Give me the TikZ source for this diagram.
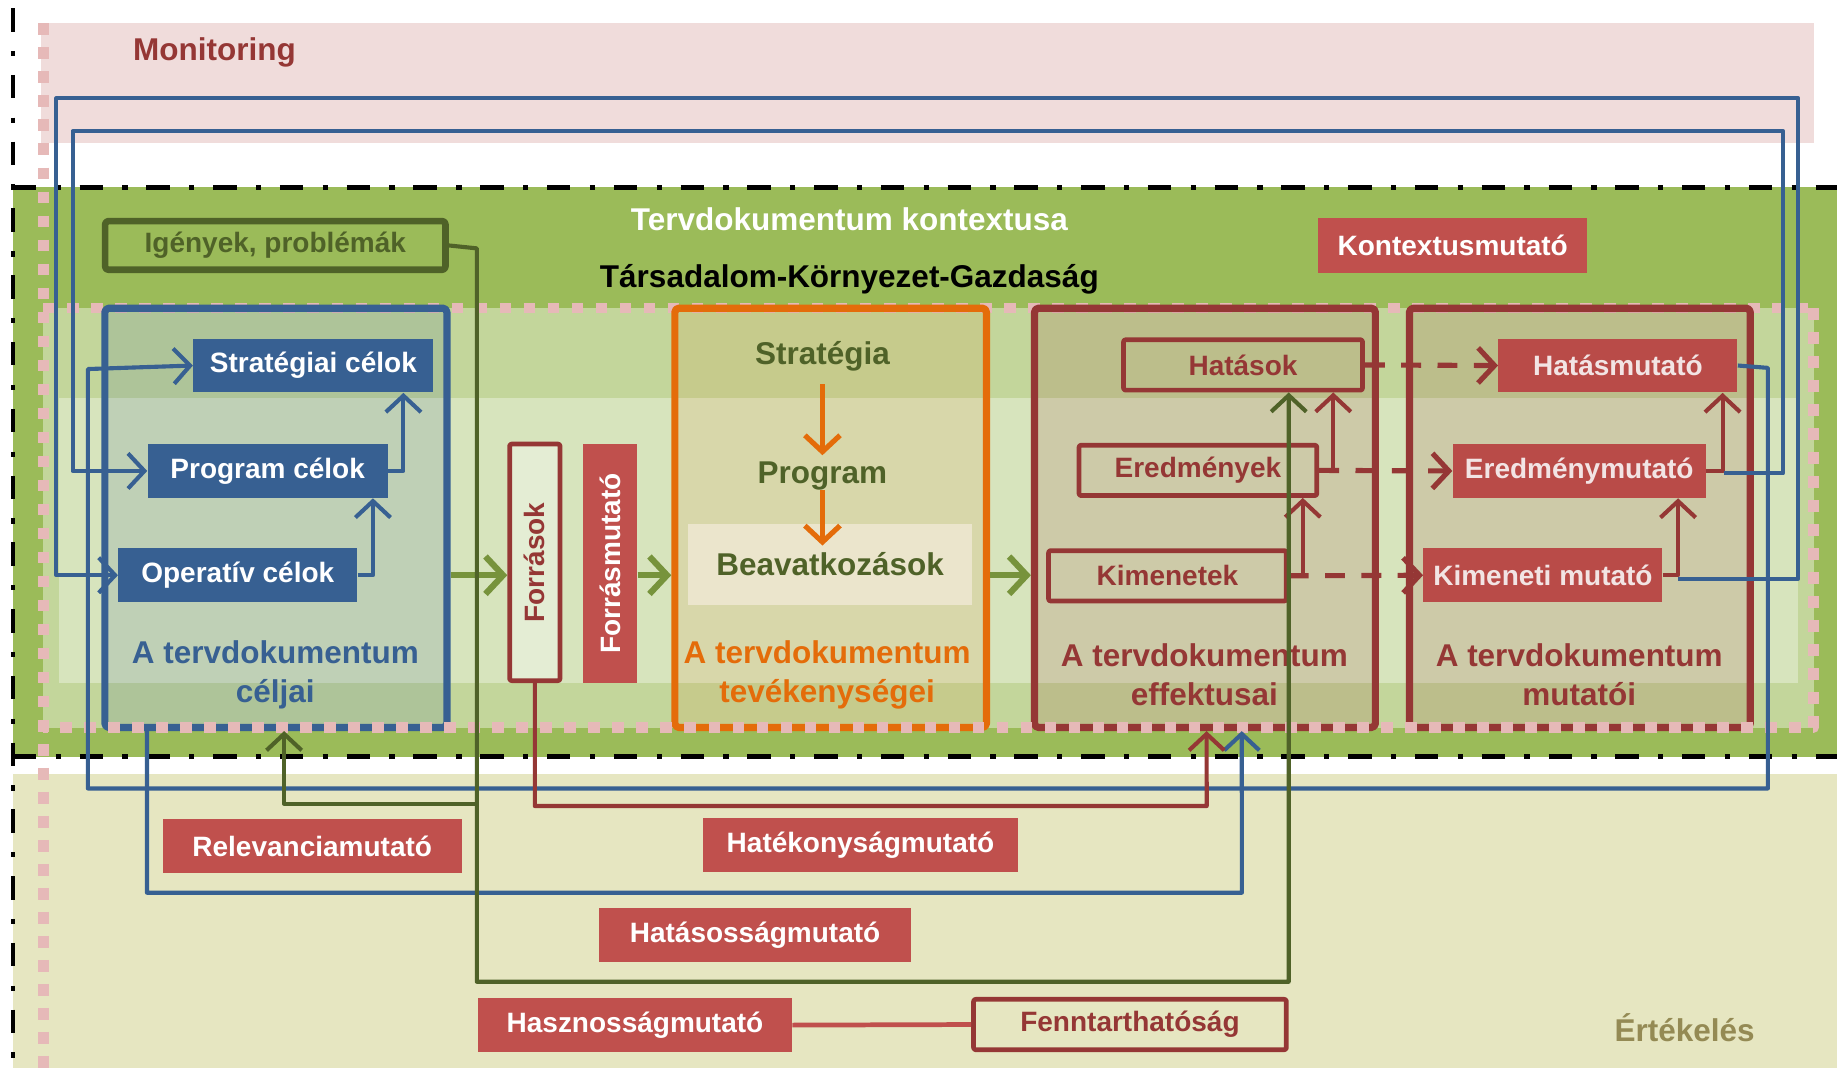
\documentclass[tikz,border=0pt]{standalone}
\usepackage{fontspec}
\setmainfont{Liberation Sans}
\usepackage{tikz}
\usetikzlibrary{arrows.meta,calc}
\usepackage{xcolor}

\definecolor{goalblue}{RGB}{55,96,146}
\definecolor{effred}{RGB}{149,55,53}
\definecolor{indred}{RGB}{192,80,77}
\definecolor{indmix}{RGB}{185,75,72}
\definecolor{textmix}{RGB}{242,228,228}
\definecolor{actorange}{RGB}{228,108,10}
\definecolor{olivedark}{RGB}{79,98,40}
\definecolor{olivearrow}{RGB}{119,147,60}
\definecolor{ctxgreen}{RGB}{155,187,89}
\definecolor{ctxlight}{RGB}{195,214,155}
\definecolor{ctxlighter}{RGB}{215,228,189}
\definecolor{evalbg}{RGB}{230,230,193}
\definecolor{monbg}{RGB}{240,220,219}
\definecolor{pinkdot}{RGB}{230,185,184}
\definecolor{evaltext}{RGB}{148,138,84}
\definecolor{cream}{RGB}{235,229,204}

\begin{document}
\begin{tikzpicture}[x=0.02cm,y=-0.02cm,line join=round,
  >={Straight Barb[length=2.8mm,width=6mm]},
  font=\bfseries\fontsize{13.6}{16}\selectfont,
  titlefont/.style={font=\bfseries\fontsize{15.3}{18.7}\selectfont},
  goal/.style={fill=goalblue,text=white,minimum width=4.1cm,minimum height=0.92cm,inner sep=0pt},
  ind/.style={fill=indred,text=white,minimum height=0.92cm,inner sep=0pt},
  eff/.style={draw=effred,line width=2.3pt,text=effred,minimum height=0.86cm,inner sep=0pt,rounded corners=1pt},
  bigbox/.style={line width=3.5pt,minimum height=7.16cm,minimum width=5.82cm,rounded corners=2pt},
  bluearr/.style={goalblue,line width=2pt,->},
  redarr/.style={effred,line width=2pt,->},
  greenarr/.style={olivedark,line width=2pt,->},
  oarr/.style={olivearrow,line width=3pt,-{Straight Barb[length=3mm,width=6.4mm]}},
  orarr/.style={actorange,line width=2.5pt,->},
  dasharr/.style={effred,line width=2.5pt,dash pattern=on 0.34cm off 0.28cm,->},
  dashdot/.style={line width=2.3pt,dash pattern=on 0.4cm off 0.33cm on 0.09cm off 0.32cm},
  pinkline/.style={pinkdot,line width=0.18cm,dash pattern=on 0.2cm off 0.21cm}]
\useasboundingbox[fill=white] (0,0) rectangle (1568,912);
\fill[monbg] (35,20) rectangle (1548,122);
\fill[ctxgreen] (11,160) rectangle (1568,646);
\fill[evalbg] (11,661) rectangle (1568,912);
\fill[ctxlight] (37,263) rectangle (1548,621);
\fill[ctxlighter] (50,340) rectangle (1535,583);
\draw[pinkline] (37,263) -- (1548,263);

\node[bigbox,draw=goalblue,fill=goalblue,fill opacity=0.15,minimum width=5.84cm] (celjai) at (235.5,442) {};
\node[bigbox,draw=actorange,fill=actorange,fill opacity=0.1,minimum width=5.32cm] (tevek) at (709,442) {};
\node[bigbox,draw=effred,fill=effred,fill opacity=0.15] (effekt) at (1028.5,442) {};
\node[bigbox,draw=effred,fill=effred,fill opacity=0.15] (mutat) at (1348.5,442) {};

\draw[pinkline] (37,20) -- (37,912);
\draw[pinkline] (1548,263) -- (1548,621) -- (37,621);
\draw[dashdot] (11,7) -- (11,912);
\draw[dashdot] (11,160) -- (1568,160);
\draw[dashdot] (11,646) -- (1568,646);

\node[titlefont,effred] (mon) at (183,45) {Monitoring};
\node[titlefont,white] (ctx) at (725,187) {Tervdokumentum kontextusa};
\node[titlefont] (tkg) at (725,238) {Társadalom-Környezet-Gazdaság};
\node[ind,minimum width=4.6cm,minimum height=0.94cm] (kontm) at (1240,209.5) {Kontextusmutató};
\node[draw=olivedark,line width=3.2pt,text=olivedark,minimum width=5.81cm,minimum height=0.83cm,inner sep=0pt,rounded corners=1.5pt] (igeny) at (235,209.5) {Igények, problémák};

\node[goal] (strat) at (267.5,312) {Stratégiai célok};
\node[goal] (prog) at (228.5,402) {Program célok};
\node[goal,minimum width=4.08cm] (oper) at (203,491) {Operatív célok};
\node[titlefont,goalblue,align=center] (celjaiL) at (235,576) {A tervdokumentum\\céljai};

\node[eff,rotate=90,fill=white,fill opacity=0.35,text opacity=1,minimum width=4.04cm] (forr) at (456.5,480) {Források};
\node[ind,rotate=90,minimum width=4.08cm] (fmut) at (521,481) {Forrásmutató};

\node[titlefont,olivedark,inner sep=0pt] (strategia) at (702,304) {Stratégia};
\node[titlefont,olivedark,inner sep=0pt] (program) at (702,406) {Program};
\node[titlefont,fill=cream,text=olivedark,minimum width=4.86cm,minimum height=1.38cm,inner sep=0pt] (beav) at (708.5,481.5) {Beavatkozások};
\node[titlefont,actorange,align=center] (tevekL) at (706,576) {A tervdokumentum\\tevékenységei};

\node[eff,minimum width=4.08cm] (hatasok) at (1061,311.5) {Hatások};
\node[eff,minimum width=4.06cm] (eredm) at (1022.5,401.5) {Eredmények};
\node[eff,minimum width=4.06cm] (kimen) at (996.5,491.5) {Kimenetek};
\node[titlefont,effred,align=center] (effektL) at (1028,576) {A tervdokumentum\\effektusai};

\node[ind,fill=indmix,text=textmix,minimum width=4.08cm] (hatmut) at (1381,312) {Hatásmutató};
\node[ind,fill=indmix,text=textmix,minimum width=4.32cm] (eredmut) at (1348,402) {Eredménymutató};
\node[ind,fill=indmix,text=textmix,minimum width=4.08cm] (kimmut) at (1317,491) {Kimeneti mutató};
\node[titlefont,effred,align=center] (mutatL) at (1348,576) {A tervdokumentum\\mutatói};

\node[ind,minimum width=5.1cm] (relev) at (266.5,722) {Relevanciamutató};
\node[ind,minimum width=5.38cm] (hatek) at (734.5,721.5) {Hatékonyságmutató};
\node[ind,minimum width=5.34cm] (hatos) at (644.5,798) {Hatásosságmutató};
\node[ind,minimum width=5.36cm] (haszn) at (542,875) {Hasznosságmutató};
\node[eff,minimum width=5.34cm] (fennt) at (964.5,874.5) {Fenntarthatóság};
\node[titlefont,evaltext] (ertek) at (1438,877) {Értékelés};

\draw[bluearr] (oper.east) -| ([xshift=-0.26cm]prog.south east);
\draw[bluearr] (prog.east) -| ([xshift=-0.52cm]strat.south east);
\draw[oarr] (celjai.east |- oper) -- (forr.north |- oper);
\draw[oarr] (fmut.south |- oper) -- (tevek.west |- oper);
\draw[oarr] (tevek.east |- oper) -- (effekt.west |- oper);
\draw[orarr] ([yshift=-0.22cm]strategia.south) -- ([yshift=0.1cm]program.north);
\draw[orarr] (program.south) -- ([yshift=-0.38cm]beav.north -| program.south);

\draw[redarr] (kimen.east) -| ([xshift=-0.28cm]eredm.south east);
\draw[redarr] (eredm.east) -| ([xshift=-0.54cm]hatasok.south east);
\draw[dasharr] (hatasok.east) -- (hatmut.west);
\draw[dasharr] (eredm.east) -- (eredmut.west);
\draw[dasharr] (kimen.east) -- (kimmut.west);
\draw[redarr] (kimmut.east) -| ([xshift=-0.48cm]eredmut.south east);
\draw[redarr] (eredmut.east) -| ([xshift=-0.26cm]hatmut.south east);

\coordinate (kmE) at ($(kimmut.east)+(13,3)$);
\coordinate (emE) at ($(eredmut.east)+(15,2)$);
\draw[bluearr] (kmE) -| (1535,84) -- (48,84) |- (oper.west);
\draw[bluearr] (emE) -| (1522,112) -- (62,112) |- (prog.west);
\draw[bluearr] (hatmut.east) -- (1509,314) |- (75,673) -- (75,315) -- (strat.west);
\draw[bluearr] ([xshift=0.78cm]celjai.south west) |- (1060,762) -- ([xshift=3.6cm]effekt.south west);

\draw[greenarr] (igeny.east) -- (407,212) |- (1100,838) -- ([xshift=-1.3cm]hatasok.south east);
\draw[greenarr] (407,686) -| ([xshift=0.14cm]celjai.south);
\draw[redarr] (forr.west) |- (1030,688) -- ([xshift=3cm]effekt.south west);
\draw[indred,line width=2.3pt] (haszn.east) -- (fennt.west);
\end{tikzpicture}
\end{document}
